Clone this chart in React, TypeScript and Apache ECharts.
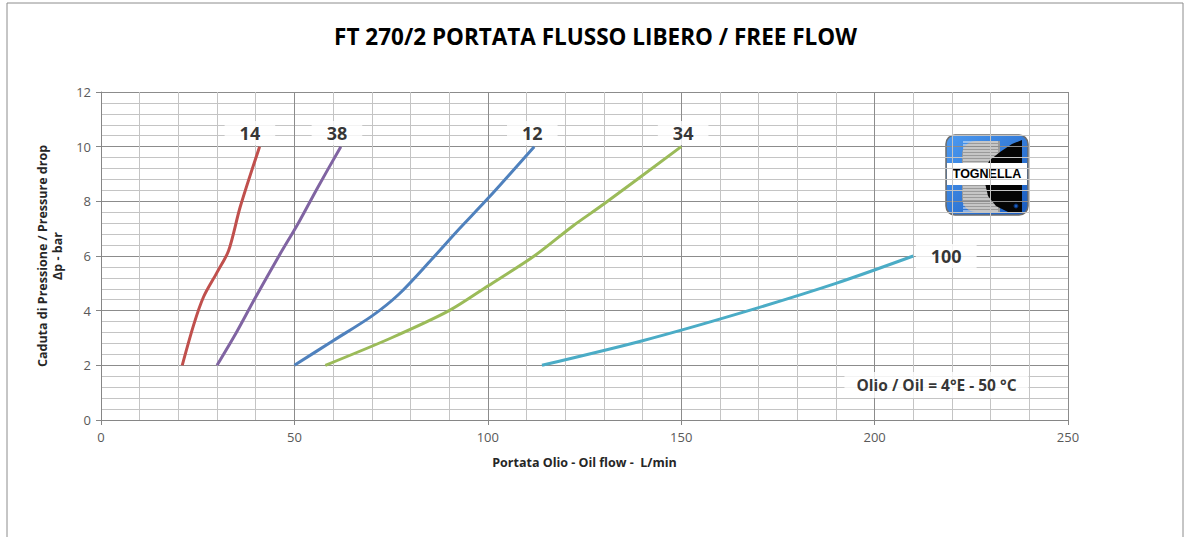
import React, { useEffect, useRef } from "react";
import * as echarts from "echarts";

const TITLE = "FT 270/2 PORTATA FLUSSO LIBERO / FREE FLOW";
const X_NAME = "Portata Olio - Oil flow -  L/min";
const Y_NAME = "Caduta di Pressione / Pressure drop\nΔp - bar";
const NOTE = "Olio / Oil = 4°E - 50 °C";

const seriesNames = ["14", "38", "12", "34", "100"];
const seriesColors = ["#C0504D", "#8064A2", "#4F81BD", "#9BBB59", "#4BACC6"];

const s14: [number, number][] = [[21, 2], [24, 3.5], [26.5, 4.5], [30, 5.4], [33, 6.2], [36, 7.8], [41, 10]];
const s38: [number, number][] = [[30, 2], [35, 3.2], [40, 4.5], [46, 6], [51, 7.2], [56, 8.5], [62, 10]];
const s12: [number, number][] = [[50, 2], [60, 2.9], [70, 3.8], [77, 4.6], [85, 5.8], [92, 6.9], [100, 8.1], [112, 10]];
const s34: [number, number][] = [[58, 2], [75, 3], [90, 4], [100, 4.9], [112, 6], [122, 7.1], [130, 7.9], [150, 10]];
const s100: [number, number][] = [[114, 2], [140, 2.9], [165, 3.9], [190, 5], [210, 6]];
const seriesData = [s14, s38, s12, s34, s100];

const labelPoints: [number, number, string][] = [
  [38.5, 10.5, "14"],
  [61, 10.5, "38"],
  [111.5, 10.5, "12"],
  [150.5, 10.5, "34"],
  [218.5, 6, "100"],
];
const notePoint: [number, number, string][] = [[216, 1.28, NOTE]];

export default function App() {
  const ref = useRef<HTMLDivElement>(null);
  useEffect(() => {
    if (!ref.current) return;
    const chart = echarts.init(ref.current, null, { renderer: "svg" });
    const font = "'Open Sans', sans-serif";

    const stripes: any[] = [];
    for (let i = 0; i < 24; i++) {
      stripes.push({
        type: "line",
        shape: { x1: 963, y1: 142 + i * 3, x2: 998, y2: 142 + i * 3 },
        style: { stroke: "#f2f2f2", lineWidth: 1 },
      });
    }

    const lineSeries = seriesData.map((d, i) => ({
      type: "line",
      name: seriesNames[i],
      data: d,
      smooth: 0.3,
      symbol: "none",
      lineStyle: { color: seriesColors[i], width: 3 },
      itemStyle: { color: seriesColors[i] },
      z: 3,
    }));

    const labelSeries = (data: any[], fontSize: number, padding: number[]) => ({
      type: "scatter",
      data,
      symbolSize: 1,
      itemStyle: { color: "rgba(0,0,0,0)" },
      z: 5,
      silent: true,
      label: {
        show: true,
        position: "inside",
        formatter: (p: any) => p.value[2],
        backgroundColor: "#ffffff",
        padding,
        fontFamily: font,
        fontSize,
        fontWeight: "bold",
        color: "#000",
      },
    });

    chart.setOption({
      animation: false,
      textStyle: { fontFamily: font },
      title: {
        text: TITLE,
        left: "center",
        top: 20,
        textStyle: { fontFamily: font, fontSize: 22.5, fontWeight: "bold", color: "#000" },
      },
      grid: { left: 101, right: 123, top: 92, bottom: 117, containLabel: false },
      xAxis: {
        type: "value",
        min: 0,
        max: 250,
        interval: 50,
        name: X_NAME,
        nameLocation: "middle",
        nameGap: 36,
        nameTextStyle: { fontFamily: font, fontSize: 12.5, fontWeight: "bold", color: "#262626" },
        axisLine: { show: true, lineStyle: { color: "#868686", width: 1 } },
        axisTick: { show: true, length: 5, lineStyle: { color: "#868686" } },
        axisLabel: { color: "#595959", fontSize: 13, margin: 10, fontFamily: font },
        splitLine: { show: true, lineStyle: { color: "#8c8c8c", width: 1 } },
        minorTick: { show: false, splitNumber: 5 },
        minorSplitLine: { show: true, lineStyle: { color: "#c4c4c4", width: 1 } },
      },
      yAxis: {
        type: "value",
        min: 0,
        max: 12,
        interval: 2,
        name: Y_NAME,
        nameLocation: "middle",
        nameRotate: 90,
        nameGap: 34,
        nameTextStyle: { fontFamily: font, fontSize: 12.5, fontWeight: "bold", color: "#262626", lineHeight: 15 },
        axisLine: { show: true, lineStyle: { color: "#868686", width: 1 } },
        axisTick: { show: true, length: 5, lineStyle: { color: "#868686" } },
        axisLabel: { color: "#595959", fontSize: 13, margin: 10, fontFamily: font },
        splitLine: { show: true, lineStyle: { color: "#8c8c8c", width: 1 } },
        minorTick: { show: false, splitNumber: 5 },
        minorSplitLine: { show: true, lineStyle: { color: "#c4c4c4", width: 1 } },
      },
      series: [
        ...lineSeries,
        labelSeries(labelPoints, 18, [3, 15, 3, 15]),
        labelSeries(notePoint, 15.5, [5, 12, 5, 12]),
      ],
      graphic: [
        {
          type: "rect",
          shape: { x: 7, y: 3, width: 1176, height: 540 },
          style: { fill: "none", stroke: "#8c8c8c", lineWidth: 1 },
          silent: true,
        },
        {
          type: "group",
          children: [
            {
              type: "rect",
              shape: { x: 946, y: 135, width: 82, height: 80, r: 9 },
              style: {
                fill: new echarts.graphic.LinearGradient(0, 0, 1, 1, [
                  { offset: 0, color: "#4d9af0" },
                  { offset: 1, color: "#1a5cc0" },
                ]),
                stroke: "#6b6b6b",
                lineWidth: 1.5,
              },
            },
            {
              type: "rect",
              shape: { x: 962, y: 141, width: 38, height: 71, r: [14, 0, 0, 14] },
              style: { fill: "#9a9a9a" },
            },
            ...stripes,
            {
              type: "polygon",
              shape: {
                points: [
                  [1022, 140], [1022, 212], [1008, 212], [996, 206], [988, 196],
                  [985, 183], [985, 168], [990, 160], [1000, 152], [1012, 144],
                ],
              },
              style: { fill: "#050505" },
            },
            {
              type: "rect",
              shape: { x: 947, y: 163, width: 80, height: 22 },
              style: { fill: "#ffffff" },
            },
            {
              type: "text",
              x: 987,
              y: 174,
              style: {
                text: "TOGNELLA",
                fontFamily: "'Liberation Sans', Arial, sans-serif",
                fontSize: 12.5,
                fontWeight: "bold",
                fill: "#000",
                align: "center",
                verticalAlign: "middle",
              },
            },
            {
              type: "circle",
              shape: { cx: 1016, cy: 206, r: 2 },
              style: { fill: "#1a5cc0", stroke: "#0a2e66" },
            },
          ],
        },
      ],
    });
    return () => chart.dispose();
  }, []);
  return (
    <div
      ref={ref}
      style={{ position: "absolute", left: 0, top: 0, width: 1191, height: 537 }}
    />
  );
}
